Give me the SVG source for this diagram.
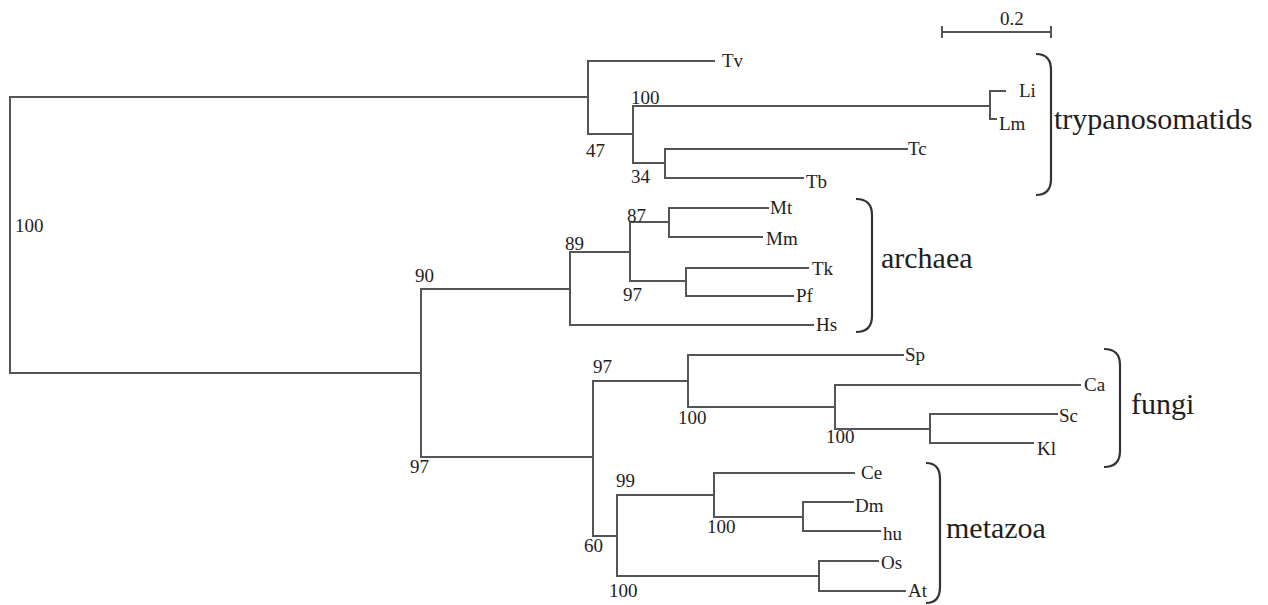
<svg xmlns="http://www.w3.org/2000/svg" width="1268" height="605" viewBox="0 0 1268 605">
<style>
.br{fill:none;stroke:#555;stroke-width:2;stroke-linecap:square}
.bk{fill:none;stroke:#333;stroke-width:2.2}
text{font-family:"Liberation Serif","Times New Roman",serif;fill:#1e1e1e}
.lf{font-size:19px}
.bs{font-size:19px}
.gp{font-size:30px}
</style>
<rect width="1268" height="605" fill="#fff"/>
<g id="connectors">
<path class="br" d="M10,97 V373 M10,97 H588 M10,373 H421"/>
<path class="br" d="M588,61 V134 M588,61 H714 M588,134 H633"/>
<path class="br" d="M633,106 V163 M633,106 H990 M633,163 H665"/>
<path class="br" d="M990,91 V119 M990,91 H1005 M990,119 H996"/>
<path class="br" d="M665,149 V178 M665,149 H907 M665,178 H803"/>
<path class="br" d="M421,289 V457 M421,289 H570 M421,457 H593"/>
<path class="br" d="M570,252 V325 M570,325 H813 M570,252 H630"/>
<path class="br" d="M630,222 V281 M630,222 H669 M630,281 H686"/>
<path class="br" d="M669,208 V237 M669,208 H768 M669,237 H762"/>
<path class="br" d="M686,268 V296 M686,268 H808 M686,296 H793"/>
<path class="br" d="M593,381 V536 M593,381 H688 M593,536 H617"/>
<path class="br" d="M688,355 V407 M688,355 H903 M688,407 H835"/>
<path class="br" d="M835,385 V429 M835,385 H1080 M835,429 H930"/>
<path class="br" d="M930,414 V443 M930,414 H1057 M930,443 H1033"/>
<path class="br" d="M617,495 V576 M617,495 H714 M617,576 H819"/>
<path class="br" d="M714,473 V517 M714,473 H854 M714,517 H803"/>
<path class="br" d="M803,502 V531 M803,502 H853 M803,531 H880"/>
<path class="br" d="M819,561 V591 M819,561 H878 M819,591 H905"/>
</g>
<g id="scale">
<path class="br" d="M942,32 H1051 M942,27 V37 M1051,27 V37"/>
<text class="bs" x="1000" y="25">0.2</text>
</g>
<g id="bootstrap">
<text class="bs" x="15" y="232">100</text>
<text class="bs" x="586" y="157">47</text>
<text class="bs" x="631" y="104">100</text>
<text class="bs" x="631" y="183">34</text>
<text class="bs" x="415" y="282">90</text>
<text class="bs" x="565" y="250">89</text>
<text class="bs" x="627" y="222">87</text>
<text class="bs" x="623" y="301">97</text>
<text class="bs" x="410" y="473">97</text>
<text class="bs" x="593" y="373">97</text>
<text class="bs" x="678" y="424">100</text>
<text class="bs" x="826" y="443">100</text>
<text class="bs" x="616" y="487">99</text>
<text class="bs" x="584" y="552">60</text>
<text class="bs" x="707" y="533">100</text>
<text class="bs" x="609" y="597">100</text>
</g>
<g id="leaf-Tv"><text class="lf" x="722" y="67">Tv</text></g>
<g id="leaf-Li"><text class="lf" x="1019" y="97">Li</text></g>
<g id="leaf-Lm"><text class="lf" x="999" y="130">Lm</text></g>
<g id="leaf-Tc"><text class="lf" x="908" y="155">Tc</text></g>
<g id="leaf-Tb"><text class="lf" x="806" y="188">Tb</text></g>
<g id="leaf-Mt"><text class="lf" x="770" y="214">Mt</text></g>
<g id="leaf-Mm"><text class="lf" x="766" y="245">Mm</text></g>
<g id="leaf-Tk"><text class="lf" x="812" y="275">Tk</text></g>
<g id="leaf-Pf"><text class="lf" x="796" y="302">Pf</text></g>
<g id="leaf-Hs"><text class="lf" x="816" y="331">Hs</text></g>
<g id="leaf-Sp"><text class="lf" x="905" y="361">Sp</text></g>
<g id="leaf-Ca"><text class="lf" x="1084" y="391">Ca</text></g>
<g id="leaf-Sc"><text class="lf" x="1059" y="422">Sc</text></g>
<g id="leaf-Kl"><text class="lf" x="1037" y="455">Kl</text></g>
<g id="leaf-Ce"><text class="lf" x="861" y="479">Ce</text></g>
<g id="leaf-Dm"><text class="lf" x="855" y="512">Dm</text></g>
<g id="leaf-hu"><text class="lf" x="883" y="540">hu</text></g>
<g id="leaf-Os"><text class="lf" x="881" y="569">Os</text></g>
<g id="leaf-At"><text class="lf" x="908" y="597">At</text></g>
<g id="group-trypanosomatids">
<path class="bk" d="M1036,54 Q1051,54 1051,70 V179 Q1051,195 1036,195"/>
<text class="gp" x="1054" y="129">trypanosomatids</text>
</g>
<g id="group-archaea">
<path class="bk" d="M856,199 Q872,199 872,215 V316 Q872,332 856,332"/>
<text class="gp" x="881" y="268">archaea</text>
</g>
<g id="group-fungi">
<path class="bk" d="M1104,349 Q1120,349 1120,365 V451 Q1120,467 1104,467"/>
<text class="gp" x="1131" y="414">fungi</text>
</g>
<g id="group-metazoa">
<path class="bk" d="M926,463 Q940,463 940,479 V587 Q940,603 926,603"/>
<text class="gp" x="946" y="538">metazoa</text>
</g>
</svg>
